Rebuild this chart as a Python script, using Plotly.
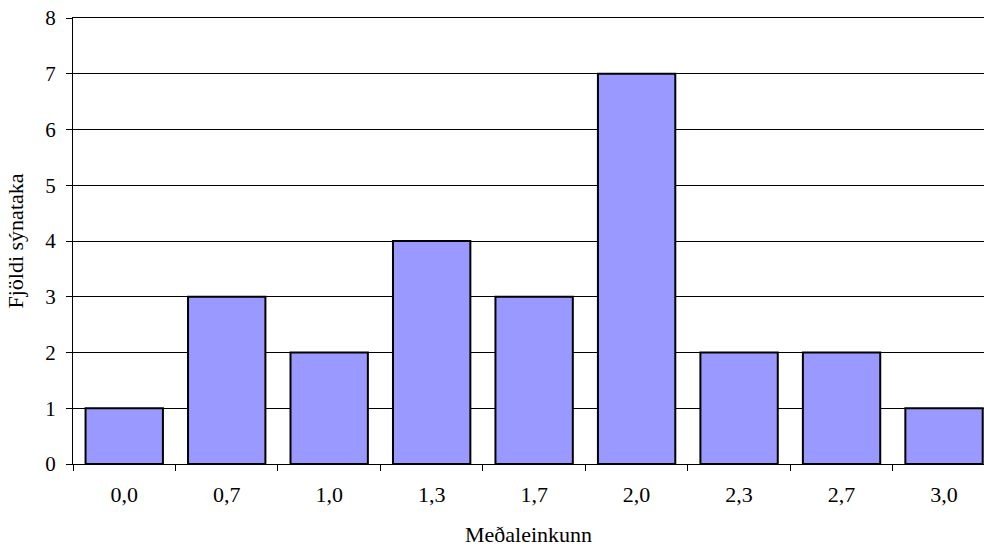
import plotly.graph_objects as go

categories = ["0,0", "0,7", "1,0", "1,3", "1,7", "2,0", "2,3", "2,7", "3,0"]
counts = [1, 3, 2, 4, 3, 7, 2, 2, 1]
y_ticks = [0, 1, 2, 3, 4, 5, 6, 7, 8]

font = "Liberation Serif, Times New Roman, serif"

fig = go.Figure(go.Bar(
    x=categories, y=counts,
    marker=dict(color="#9999FF", line=dict(color="black", width=2)),
    width=0.755,
))

fig.update_layout(
    width=984, height=547,
    margin=dict(l=73, r=0, t=18, b=83),
    paper_bgcolor="white", plot_bgcolor="white",
    font=dict(family=font, size=21, color="black"),
    showlegend=False,
    xaxis=dict(
        type="category", range=[-0.5, 8.39], automargin=False,
        tickson="boundaries", ticks="outside", ticklen=6, tickcolor="black",
        showline=True, linecolor="black", linewidth=1, mirror=True,
        showgrid=False, tickfont=dict(size=22), ticklabelstandoff=11,
        title=dict(text="Meðaleinkunn", font=dict(size=22), standoff=22),
    ),
    yaxis=dict(
        range=[0, 8], tickvals=y_ticks, ticks="outside", ticklen=6, tickcolor="black",
        showline=True, linecolor="black", linewidth=1, automargin=False,
        showgrid=True, gridcolor="black", gridwidth=1,
        zeroline=False, tickfont=dict(size=21), ticklabelstandoff=6,
        title=dict(text="Fjöldi sýnataka", font=dict(size=22), standoff=15),
    ),
)

fig.write_html(
    "out.html",
    config={"displayModeBar": False},
    post_script="document.body.style.margin='0';document.body.style.overflow='hidden';",
)
